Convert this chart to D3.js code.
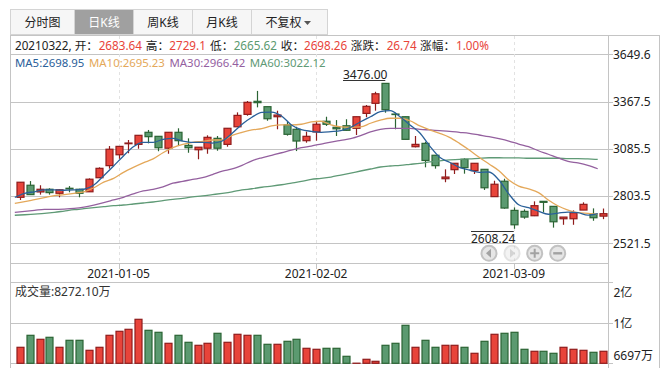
<!DOCTYPE html>
<html>
<head>
<meta charset="utf-8">
<script src="https://cdn.jsdelivr.net/npm/d3@7"></script>
<style>
  html, body { margin: 0; padding: 0; background: #fff; }
  text { font-family: "Noto Sans", "Noto Sans CJK SC", sans-serif; font-size: 12px; fill: #222; }
  .axis .domain { display: none; }
</style>
</head>
<body>
<div id="chart"></div>
<script>
// trading days, one per candle
const dates = ["2020-12-21","2020-12-22","2020-12-23","2020-12-24","2020-12-25","2020-12-28","2020-12-29","2020-12-30","2020-12-31","2021-01-04",
  "2021-01-05","2021-01-06","2021-01-07","2021-01-08","2021-01-11","2021-01-12","2021-01-13","2021-01-14","2021-01-15","2021-01-18",
  "2021-01-19","2021-01-20","2021-01-21","2021-01-22","2021-01-25","2021-01-26","2021-01-27","2021-01-28","2021-01-29","2021-02-01",
  "2021-02-02","2021-02-03","2021-02-04","2021-02-05","2021-02-08","2021-02-09","2021-02-10","2021-02-18","2021-02-19","2021-02-22",
  "2021-02-23","2021-02-24","2021-02-25","2021-02-26","2021-03-01","2021-03-02","2021-03-03","2021-03-04","2021-03-05","2021-03-08",
  "2021-03-09","2021-03-10","2021-03-11","2021-03-12","2021-03-15","2021-03-16","2021-03-17","2021-03-18","2021-03-19","2021-03-22"]

const open = [2796,2868,2828,2844,2820,2850,2844,2829,2913,2985,3050,3116,3112,3184,3160,3089,3184,3106,3080,3089,
  3148,3112,3217,3291,3369,3337,3277,3228,3202,3134,3186,3250,3214,3223,3208,3297,3357,3476,3293,3277,
  3098,3118,3047,2907,2961,3023,2955,2963,2800,2892,2718,2712,2686,2772,2742,2668,2668,2720,2695,2683.64]
const high = [2886,2893,2868,2850,2844,2863,2847,2909,2975,3102,3100,3138,3166,3198,3160,3184,3208,3148,3095,3166,
  3162,3208,3303,3371,3431,3337,3313,3247,3217,3188,3247,3277,3257,3262,3277,3347,3426,3476,3300,3277,
  3162,3128,3047,2963,2999,3029,2999,2963,2895,2907,2736,2724,2772,2772,2742,2678,2718,2766,2730,2729.1]
const low = [2780,2810,2812,2812,2796,2826,2796,2829,2911,2967,3026,3059,3086,3118,3071,3056,3102,3062,3023,3056,
  3074,3098,3217,3283,3333,3253,3202,3164,3072,3122,3134,3222,3162,3194,3168,3274,3313,3301,3202,3142,
  3094,2975,2967,2886,2935,2937,2935,2840,2800,2728,2608.24,2668,2684,2706,2615,2632,2632,2720,2656,2665.62]
const close = [2886,2812,2844,2824,2841,2846,2820,2904,2969,3083,3100,3120,3166,3158,3092,3184,3134,3092,3095,3154,
  3089,3208,3285,3363,3361,3265,3287,3172,3132,3160,3232,3232,3205,3196,3277,3339,3414,3319,3290,3142,
  3112,3016,2985,2917,2999,2973,2999,2853,2874,2732,2632,2678,2746,2766,2650,2678,2704,2754,2674,2698.26]

const ma5 = [2796,2820,2829,2840,2840,2838,2840,2844,2869,2925,2983,3043,3098,3124,3124,3142,3148,3132,3124,3124,
  3120,3132,3178,3232,3274,3303,3305,3281,3228,3200,3190,3184,3188,3194,3214,3247,3277,3307,3313,3277,
  3228,3180,3102,3035,3005,2975,2959,2945,2947,2899,2816,2752,2734,2713,2695,2702,2708,2704,2690,2698.95]
const ma10 = [2760,2770,2782,2794,2806,2812,2820,2829,2853,2887,2909,2945,2975,3002,3025,3062,3092,3112,3124,3130,
  3138,3138,3166,3184,3198,3206,3223,3228,3228,3232,3246,3250,3228,3216,3214,3216,3238,3256,3268,3268,
  3253,3222,3198,3178,3154,3118,3078,3035,2995,2955,2899,2863,2846,2824,2780,2744,2720,2704,2700,2695.23]
const ma30 = [2706,2712,2718,2724,2724,2726,2730,2738,2750,2764,2780,2796,2816,2834,2844,2859,2880,2891,2903,2913,
  2932,2953,2965,2987,3014,3032,3047,3062,3078,3092,3102,3114,3126,3136,3146,3164,3186,3202,3208,3208,
  3208,3202,3198,3194,3190,3184,3178,3168,3158,3146,3132,3114,3098,3074,3053,3031,3011,3001,2987,2966.42]
const ma60 = [2689,2692,2696,2700,2706,2714,2722,2728,2734,2740,2746,2750,2756,2762,2768,2776,2784,2790,2798,2804,
  2812,2820,2829,2840,2847,2856,2863,2871,2881,2891,2903,2909,2917,2929,2941,2953,2965,2977,2983,2987,
  2993,2999,3007,3014,3019,3023,3025,3029,3032,3032,3031,3031,3029,3029,3029,3029,3027,3027,3025,3022.12]

// volume in units of 10k shares
const volume = [8927,10897,10241,10569,8927,10076,10076,8434,8927,10897,11554,11882,13524,11718,11390,9584,10897,9748,9255,9584,
  11226,9748,11062,10897,10897,9420,9420,9912,10241,8763,8599,8763,8763,7449,6320,6957,6628,9255,9584,12539,
  8927,10076,8927,9255,9255,8927,7942,9912,11062,11226,11390,8599,8272,8272,7942,8927,8599,8434,8106,8272]

const priceTicks = [3649.6, 3367.5, 3085.5, 2803.5, 2521.5]
const dateTicks = ["2021-01-05", "2021-02-02", "2021-03-09"]
const volTicks = [19600, 12950, 6300]
const volLabels = ["2亿", "1亿", "6697万"]
const tabNames = ["分时图", "日K线", "周K线", "月K线", "不复权"]

const RED = "#e8443a", RED_DK = "#8f1c1c"
const GREEN = "#5b9a70", GREEN_DK = "#2b6434"
const GRID = "#c4c4c4"

const width = 669, height = 372
const svg = d3.select("#chart").append("svg")
  .attr("width", width).attr("height", height)
  .style("display", "block")

const x = d3.scaleBand().domain(dates).range([14.8, 607.6])
const bw = x.bandwidth()
const cx = d => x(d) + bw / 2

const y = d3.scaleLinear().domain([2521.5, 3649.6]).range([243.3, 54.3])
const yVol = d3.scaleLinear().domain([6300, 19600]).range([363.3, 282.3])

const candles = dates.map((d, i) => ({ date: d, o: open[i], h: high[i], l: low[i], c: close[i], v: volume[i] }))
// the site colours by close against open
const isUp = d => d.c >= d.o

// frame and grid
const frame = svg.append("g").attr("stroke", GRID).attr("fill", "none")
frame.append("path").attr("d", "M10.5,9V368M608.5,35V368M659.5,35V368M10.5,35.5H659.5M10.5,263.5H608.5M10.5,282.5H608.5")

const grid = svg.append("g").attr("stroke", GRID)
grid.selectAll("line.p").data(priceTicks).join("line").attr("class", "p")
  .attr("x1", 10).attr("x2", 613)
  .attr("y1", d => Math.round(y(d)) + 0.5).attr("y2", d => Math.round(y(d)) + 0.5)
grid.selectAll("line.v").data(volTicks).join("line").attr("class", "v")
  .attr("x1", 10).attr("x2", 613)
  .attr("y1", d => Math.round(yVol(d)) + 0.5).attr("y2", d => Math.round(yVol(d)) + 0.5)

svg.append("g").attr("stroke", "#e2e2e2").attr("stroke-dasharray", "3,3")
  .selectAll("line").data(dateTicks).join("line")
  .attr("x1", d => Math.round(cx(d)) + 0.5).attr("x2", d => Math.round(cx(d)) + 0.5)
  .attr("y1", 36).attr("y2", 263)
svg.append("g").attr("stroke", GRID)
  .selectAll("line").data(dateTicks).join("line")
  .attr("x1", d => Math.round(cx(d)) + 0.5).attr("x2", d => Math.round(cx(d)) + 0.5)
  .attr("y1", 263).attr("y2", 269)

// tabs
const tabEdges = [10.5, 74.5, 133.5, 192.5, 251.5, 327.5]
const tabs = svg.append("g")
tabs.selectAll("rect").data(tabNames).join("rect")
  .attr("x", (d, i) => tabEdges[i]).attr("y", 9.5)
  .attr("width", (d, i) => tabEdges[i + 1] - tabEdges[i]).attr("height", 25)
  .attr("fill", (d, i) => i === 1 ? "#a0a0a0" : "#f6f6f6")
  .attr("stroke", "#d4d4d4")
tabs.selectAll("text").data(tabNames).join("text")
  .attr("x", (d, i) => (tabEdges[i] + tabEdges[i + 1]) / 2 - (i === 4 ? 6 : 0))
  .attr("y", 27)
  .attr("text-anchor", "middle")
  .style("fill", (d, i) => i === 1 ? "#fff" : "#222")
  .text(d => d)
tabs.append("path").attr("d", "M304,21H311L307.5,25Z").attr("fill", "#555")

// header rows
const infoRow = [
  ["20210322, 开：", 15, "#222"], ["2683.64", 98.7, RED], ["高：", 145.7, "#222"], ["2729.1", 169.3, RED],
  ["低：", 210, "#222"], ["2665.62", 233.7, GREEN], ["收：", 280.7, "#222"], ["2698.26", 304, RED],
  ["涨跌：", 350.7, "#222"], ["26.74", 386.7, RED], ["涨幅：", 420, "#222"], ["1.00%", 456, RED]
]
svg.append("g").selectAll("text").data(infoRow).join("text")
  .attr("x", d => d[1]).attr("y", 50).style("font-size", "11.7px").style("fill", d => d[2]).text(d => d[0])

const maRow = [
  ["MA5:2698.95", 15, "#2a6099"], ["MA10:2695.23", 89, "#e4a85a"],
  ["MA30:2966.42", 169.5, "#94609f"], ["MA60:3022.12", 249.7, "#5f9a76"]
]
svg.append("g").selectAll("text").data(maRow).join("text")
  .attr("x", d => d[1]).attr("y", 67).style("font-size", "11.4px").style("fill", d => d[2]).text(d => d[0])

// candles
const candleG = svg.append("g").selectAll("g").data(candles).join("g")
candleG.append("line")
  .attr("x1", d => Math.round(cx(d.date)) + 0.5).attr("x2", d => Math.round(cx(d.date)) + 0.5)
  .attr("y1", d => y(d.h)).attr("y2", d => y(d.l))
  .attr("stroke", d => isUp(d) ? RED_DK : GREEN_DK).attr("stroke-width", 1.2)
candleG.append("rect")
  .attr("x", d => Math.round(cx(d.date)) - 3)
  .attr("width", 7)
  .attr("y", d => y(Math.max(d.o, d.c)))
  .attr("height", d => Math.max(0.5, y(Math.min(d.o, d.c)) - y(Math.max(d.o, d.c))))
  .attr("fill", d => isUp(d) ? RED : GREEN)
  .attr("stroke", d => isUp(d) ? RED_DK : GREEN_DK).attr("stroke-width", 1.2)

// moving averages sit on the left edge of each band
const maLine = d3.line().x((d, i) => x(dates[i])).y(d => y(d)).curve(d3.curveMonotoneX)
const maSeries = [[ma60, "#5f9a76"], [ma30, "#94609f"], [ma10, "#e4a85a"], [ma5, "#2a6099"]]
svg.append("g").attr("fill", "none").attr("stroke-width", 1.3)
  .selectAll("path").data(maSeries).join("path")
  .attr("d", d => maLine(d[0])).attr("stroke", d => d[1])

// volume bars
svg.append("g").selectAll("rect").data(candles).join("rect")
  .attr("x", d => Math.round(cx(d.date)) - 3)
  .attr("width", 7)
  .attr("y", d => yVol(d.v))
  .attr("height", d => yVol(6300) - yVol(d.v))
  .attr("fill", d => isUp(d) ? RED : GREEN)
  .attr("stroke", d => isUp(d) ? RED_DK : GREEN_DK).attr("stroke-width", 1.2)

// axes
const priceAxis = svg.append("g").attr("class", "axis")
  .attr("transform", "translate(608,0)")
  .call(d3.axisRight(y).tickValues(priceTicks).tickSize(0).tickPadding(5).tickFormat(d => d.toFixed(1)))
priceAxis.selectAll("text").style("font-size", "12px").style("fill", "#222").style("font-family", null)

const dateAxis = svg.append("g").attr("class", "axis")
  .attr("transform", "translate(0,263)")
  .call(d3.axisBottom(x).tickValues(dateTicks).tickSize(0).tickPadding(6))
dateAxis.selectAll("text").style("font-size", "12px").style("fill", "#222").style("font-family", null)

// volume labels get nudged so they stay inside the panel
const volNudge = [15, 5, -3]
svg.append("g").selectAll("text").data(volTicks).join("text")
  .attr("x", 613.5)
  .attr("y", (d, i) => yVol(d) + volNudge[i])
  .text((d, i) => volLabels[i])

svg.append("text").attr("x", 15).attr("y", 296).style("fill", "#333").text("成交量:8272.10万")

// high / low markers
svg.append("text").attr("x", 343).attr("y", 79).text(d3.format(".2f")(d3.max(high)))
svg.append("line").attr("x1", 343).attr("x2", cx("2021-02-18")).attr("y1", 80.5).attr("y2", 80.5).attr("stroke", "#333")
svg.append("text").attr("x", 471).attr("y", 243).text(d3.format(".2f")(d3.min(low)))
svg.append("line").attr("x1", 471).attr("x2", cx("2021-03-09")).attr("y1", 231.5).attr("y2", 231.5).attr("stroke", "#333")

// nav buttons
const navX = [489, 512, 534.7, 557.7]
const navIcon = ["M-3,0L2,-4.5V4.5Z", "M3,0L-2,-4.5V4.5Z", "M-4.5,-1H-1V-4.5H1V-1H4.5V1H1V4.5H-1V1H-4.5Z", "M-4.5,-1.2H4.5V1.2H-4.5Z"]
const navG = svg.append("g").selectAll("g").data(navX).join("g")
  .attr("transform", d => `translate(${d},253.3)`)
  .attr("opacity", (d, i) => i === 1 ? 0.45 : 1)
navG.append("circle").attr("r", 7.5).attr("fill", "#e6e6e6").attr("stroke", "#c2c2c2").attr("stroke-width", 2)
navG.append("path").attr("d", (d, i) => navIcon[i]).attr("fill", "#a2a2a2")
</script>
</body>
</html>
